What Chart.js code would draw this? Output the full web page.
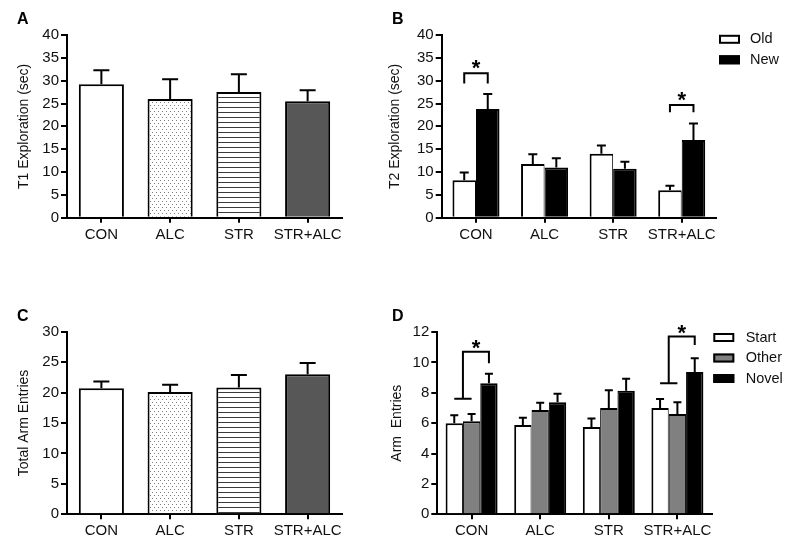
<!DOCTYPE html>
<html><head><meta charset="utf-8">
<script src="https://cdn.jsdelivr.net/npm/chart.js@4.4.1/dist/chart.umd.min.js"></script>
<style>
html,body{margin:0;padding:0;background:#fff;}
#wrap{position:relative;width:800px;height:549px;overflow:hidden;background:#fff;}
canvas{position:absolute;}
</style></head><body>
<div id="wrap">
<canvas id="cA" width="380" height="270" style="left:0;top:0;width:380px;height:270px"></canvas>
<canvas id="cB" width="420" height="270" style="left:380px;top:0;width:420px;height:270px"></canvas>
<canvas id="cC" width="380" height="279" style="left:0;top:270px;width:380px;height:279px"></canvas>
<canvas id="cD" width="420" height="279" style="left:380px;top:270px;width:420px;height:279px"></canvas>
</div>
<script>
// ---------- data ----------
const categories = ['CON', 'ALC', 'STR', 'STR+ALC'];

const t1Mean = [29.2, 26.0, 27.5, 25.5];
const t1Sem  = [3.1, 4.3, 3.9, 2.4];

const t2OldMean = [8.2, 11.75, 14.0, 6.0];
const t2OldSem  = [1.7, 2.15, 1.8, 1.0];
const t2NewMean = [23.8, 11.0, 10.7, 17.0];
const t2NewSem  = [3.3, 2.0, 1.55, 3.6];

const totalMean = [20.7, 20.1, 20.85, 23.0];
const totalSem  = [1.1, 1.2, 2.05, 1.85];

const startMean = [6.0, 5.88, 5.75, 7.0];
const startSem  = [0.52, 0.48, 0.55, 0.59];
const otherMean = [6.12, 6.87, 7.0, 6.6];
const otherSem  = [0.48, 0.48, 1.16, 0.77];
const novelMean = [8.62, 7.37, 8.14, 9.37];
const novelSem  = [0.64, 0.57, 0.79, 0.9];

// significance brackets (values in data units)
const sigB = [
  {category: 'CON', top: 31.6, leg: 29.4, star: 34.0},
  {category: 'STR+ALC', top: 24.7, leg: 23.1, star: 27.0}
];
const sigD = [
  {category: 'CON', low: 7.6, top: 10.7, rightLeg: 9.95, star: 11.3},
  {category: 'STR+ALC', low: 8.62, top: 11.7, rightLeg: 11.15, star: 12.3}
];

// ---------- helpers ----------
Chart.defaults.font.family = "'Liberation Sans', Arial, Helvetica, sans-serif";
Chart.defaults.color = '#111';

function dotPattern() {
  const c = document.createElement('canvas'); c.width = 4; c.height = 6;
  const x = c.getContext('2d');
  x.fillStyle = '#fff'; x.fillRect(0, 0, 4, 6);
  x.fillStyle = '#808080'; x.fillRect(0, 0, 1, 1); x.fillRect(2, 3, 1, 1);
  return x.createPattern(c, 'repeat');
}
function stripePattern() {
  const c = document.createElement('canvas'); c.width = 4; c.height = 5;
  const x = c.getContext('2d');
  x.fillStyle = '#fff'; x.fillRect(0, 0, 4, 5);
  x.fillStyle = '#3a3a3a'; x.fillRect(0, 2, 4, 1);
  return x.createPattern(c, 'repeat');
}
const STARFONT = "bold 22px 'Liberation Sans', Arial, sans-serif";

const errorBars = {
  id: 'errorBars',
  afterDatasetsDraw(chart, args, opts) {
    const ctx = chart.ctx, y = chart.scales.y;
    ctx.save();
    ctx.strokeStyle = '#000'; ctx.lineWidth = 2; ctx.lineCap = 'butt';
    chart.data.datasets.forEach((ds, di) => {
      if (!ds.sem) return;
      const meta = chart.getDatasetMeta(di);
      meta.data.forEach((bar, i) => {
        const yt = y.getPixelForValue(ds.data[i] + ds.sem[i]);
        const half = opts.cap / 2;
        ctx.beginPath();
        ctx.moveTo(bar.x, bar.y); ctx.lineTo(bar.x, yt);
        ctx.moveTo(bar.x - half, yt); ctx.lineTo(bar.x + half, yt);
        ctx.stroke();
      });
    });
    ctx.restore();
  }
};

const brackets = {
  id: 'brackets',
  afterDatasetsDraw(chart, args, opts) {
    if (!opts.items) return;
    const ctx = chart.ctx, y = chart.scales.y;
    ctx.save();
    ctx.strokeStyle = '#000'; ctx.lineWidth = 2; ctx.lineCap = 'butt'; ctx.lineJoin = 'miter';
    ctx.fillStyle = '#000'; ctx.font = STARFONT; ctx.textAlign = 'center'; ctx.textBaseline = 'alphabetic';
    opts.items.forEach(s => {
      const ci = categories.indexOf(s.category);
      const n = chart.data.datasets.length;
      const xs = chart.data.datasets.map((d, di) => chart.getDatasetMeta(di).data[ci].x);
      const yt = y.getPixelForValue(s.top);
      let x1, x2;
      ctx.beginPath();
      if (n === 2) {
        x1 = xs[0]; x2 = xs[1];
        const yl = y.getPixelForValue(s.leg);
        ctx.moveTo(x1, yl); ctx.lineTo(x1, yt); ctx.lineTo(x2, yt); ctx.lineTo(x2, yl);
      } else {
        const ylow = y.getPixelForValue(s.low);
        const xm = (xs[0] + xs[1]) / 2;
        x1 = xm; x2 = xs[2];
        ctx.moveTo(xs[0], ylow); ctx.lineTo(xs[1], ylow);
        ctx.moveTo(xm, ylow); ctx.lineTo(xm, yt); ctx.lineTo(x2, yt); ctx.lineTo(x2, y.getPixelForValue(s.rightLeg));
      }
      ctx.stroke();
      ctx.fillText('*', (x1 + x2) / 2, y.getPixelForValue(s.star) + 12.6);
    });
    ctx.restore();
  }
};

const sideLegend = {
  id: 'sideLegend',
  afterDraw(chart, args, opts) {
    if (!opts.show) return;
    const ctx = chart.ctx;
    ctx.save();
    ctx.font = "14.5px 'Liberation Sans', Arial, sans-serif";
    ctx.textBaseline = 'middle'; ctx.textAlign = 'left';
    chart.data.datasets.forEach((ds, i) => {
      const cy = opts.y + i * opts.spacing;
      ctx.fillStyle = ds.backgroundColor;
      ctx.fillRect(opts.x, cy - opts.h / 2, opts.w, opts.h);
      ctx.strokeStyle = '#000'; ctx.lineWidth = 2;
      ctx.strokeRect(opts.x + 1, cy - opts.h / 2 + 1, opts.w - 2, opts.h - 2);
      ctx.fillStyle = '#111';
      ctx.fillText(ds.label, opts.textX, cy);
    });
    ctx.restore();
  }
};

const panelLabel = {
  id: 'panelLabel',
  afterDraw(chart, args, opts) {
    const ctx = chart.ctx;
    ctx.save();
    ctx.font = "bold 16px 'Liberation Sans', Arial, sans-serif";
    ctx.fillStyle = '#000'; ctx.textAlign = 'left'; ctx.textBaseline = 'alphabetic';
    ctx.fillText(opts.text, opts.x, opts.y);
    ctx.restore();
  }
};

function makeChart(id, g, datasets, yMax, yStep, yTitle, plugOpts) {
  const XH = 30;
  return new Chart(document.getElementById(id), {
    type: 'bar',
    data: {labels: categories, datasets: datasets},
    options: {
      responsive: false, animation: false, devicePixelRatio: 1,
      layout: {padding: {left: 0, top: g.top, right: g.W - g.right, bottom: g.H - g.bottom - XH}},
      plugins: Object.assign({legend: {display: false}, tooltip: {enabled: false}}, plugOpts),
      datasets: {bar: {categoryPercentage: g.cat, barPercentage: 1}},
      scales: {
        x: {
          offset: true, z: 1,
          grid: {display: true, drawOnChartArea: false, drawTicks: true, tickLength: 5, offset: false, color: '#000', lineWidth: 2},
          border: {display: true, color: '#000', width: 2},
          ticks: {font: {size: 15}, color: '#111', padding: 3, maxRotation: 0, autoSkip: false},
          afterFit(s) { s.height = XH; }
        },
        y: {
          min: 0, max: yMax, z: 1,
          ticks: {stepSize: yStep, font: {size: 15}, color: '#111', padding: 2},
          grid: {drawOnChartArea: false, drawTicks: true, tickLength: 6, color: '#000', lineWidth: 2},
          border: {display: true, color: '#000', width: 2},
          title: {display: true, text: yTitle, font: {size: 14}, color: '#111', padding: {top: g.titleX - 8.4, bottom: 0}},
          afterFit(s) { s.width = g.left; }
        }
      }
    },
    plugins: [errorBars, brackets, sideLegend, panelLabel]
  });
}

const dots = dotPattern(), stripes = stripePattern();
const singleFill = ['#ffffff', dots, stripes, '#575757'];

// Panel A
makeChart('cA', {W: 380, H: 270, left: 67, right: 342, top: 35, bottom: 217.7, cat: 0.656, titleX: 24},
  [{label: 'T1', data: t1Mean, sem: t1Sem, backgroundColor: singleFill, borderColor: '#000',
    borderWidth: {top: 2, left: 2, right: 2, bottom: 0}, borderSkipped: 'start'}],
  40, 5, 'T1 Exploration (sec)',
  {errorBars: {cap: 16}, panelLabel: {text: 'A', x: 17, y: 24}});

// Panel B
makeChart('cB', {W: 420, H: 270, left: 61.7, right: 336, top: 35, bottom: 217.7, cat: 0.686, titleX: 15},
  [{label: 'Old', data: t2OldMean, sem: t2OldSem, backgroundColor: '#ffffff', borderColor: '#000',
    borderWidth: {top: 2, left: 2, right: 1, bottom: 0}},
   {label: 'New', data: t2NewMean, sem: t2NewSem, backgroundColor: '#000000', borderColor: '#000',
    borderWidth: {top: 2, left: 1, right: 2, bottom: 0}}],
  40, 5, 'T2 Exploration (sec)',
  {errorBars: {cap: 9}, brackets: {items: sigB},
   sideLegend: {show: true, x: 339, y: 39.3, spacing: 20.5, w: 21, h: 9, textX: 370},
   panelLabel: {text: 'B', x: 12, y: 23.5}});

// Panel C
makeChart('cC', {W: 380, H: 279, left: 67, right: 342, top: 61.7, bottom: 244.3, cat: 0.656, titleX: 24},
  [{label: 'Total', data: totalMean, sem: totalSem, backgroundColor: singleFill, borderColor: '#000',
    borderWidth: {top: 2, left: 2, right: 2, bottom: 0}}],
  30, 5, 'Total Arm Entries',
  {errorBars: {cap: 16}, panelLabel: {text: 'C', x: 17, y: 50.5}});

// Panel D
makeChart('cD', {W: 420, H: 279, left: 57.3, right: 331.7, top: 62, bottom: 244.3, cat: 0.758, titleX: 17},
  [{label: 'Start', data: startMean, sem: startSem, backgroundColor: '#ffffff', borderColor: '#000',
    borderWidth: {top: 2, left: 2, right: 1, bottom: 0}},
   {label: 'Other', data: otherMean, sem: otherSem, backgroundColor: '#808080', borderColor: '#000',
    borderWidth: {top: 2, left: 1, right: 1, bottom: 0}},
   {label: 'Novel', data: novelMean, sem: novelSem, backgroundColor: '#000000', borderColor: '#000',
    borderWidth: {top: 2, left: 1, right: 2, bottom: 0}}],
  12, 2, 'Arm  Entries',
  {errorBars: {cap: 8}, brackets: {items: sigD},
   sideLegend: {show: true, x: 333.3, y: 67.5, spacing: 20.5, w: 21, h: 9, textX: 365.7},
   panelLabel: {text: 'D', x: 12, y: 51}});
</script>
</body></html>
